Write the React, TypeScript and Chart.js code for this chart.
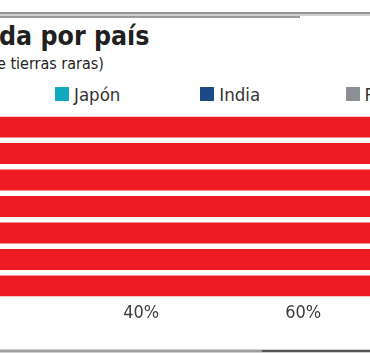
import React, { useEffect, useRef } from "react";
import { Chart, registerables } from "chart.js";

Chart.register(...registerables);

// ---- data ----
const categories = ["2006", "2007", "2008", "2009", "2010", "2011", "2012"];
const seriesNames = ["China", "Japón", "India", "Resto"];
const seriesColors = ["#ed1c24", "#12a9bf", "#1d4a86", "#8b8f94"];
const chinaValues = [95, 94, 93, 92, 91, 90, 89];
const japonValues = [2, 3, 3, 3, 4, 4, 5];
const indiaValues = [1, 1, 2, 2, 2, 2, 2];
const restoValues = [2, 2, 2, 3, 3, 4, 4];
const tickValues = [40, 60];
const titleText = "da por país";
const subtitleText = "e tierras raras)";

const seriesValues = [chinaValues, japonValues, indiaValues, restoValues];

const FONT = '"DejaVu Sans Condensed", "DejaVu Sans", sans-serif';

// baseline helper for DejaVu metrics (ascent .928, descent .236)
const topFor = (baseline: number, fs: number, lh: number) =>
  baseline - ((lh - 1.164 * fs) / 2 + 0.928 * fs);

export default function App() {
  const ref = useRef<HTMLCanvasElement | null>(null);

  useEffect(() => {
    if (!ref.current) return;
    const chart = new Chart(ref.current, {
      type: "bar",
      data: {
        labels: categories,
        datasets: seriesNames.map((name, i) => ({
          label: name,
          data: seriesValues[i],
          backgroundColor: seriesColors[i],
          borderWidth: 0,
          barPercentage: 0.79,
          categoryPercentage: 1,
        })),
      },
      options: {
        indexAxis: "y",
        responsive: false,
        animation: false,
        layout: { padding: { top: 113.85, bottom: 27.25, left: 0, right: 0 } },
        plugins: {
          legend: { display: false },
          tooltip: { enabled: false },
          title: { display: false },
        },
        scales: {
          x: {
            stacked: true,
            min: 22.56,
            max: 68.24,
            grid: { display: false, drawTicks: false },
            border: { display: false },
            afterBuildTicks: (axis: any) => {
              axis.ticks = tickValues.map((v) => ({ value: v }));
            },
            ticks: {
              padding: 3,
              autoSkip: false,
              maxRotation: 0,
              color: "#3c3c3c",
              font: { family: FONT, size: 18 },
              callback: (v: any) => `${v}%`,
            },
          },
          y: { stacked: true, display: false },
        },
      },
    });
    return () => chart.destroy();
  }, []);

  const legendStart = 55 - 145.3;
  return (
    <div
      style={{
        position: "fixed",
        left: 0,
        top: 0,
        width: 370,
        height: 354,
        overflow: "hidden",
        background: "#ffffff",
        fontFamily: FONT,
      }}
    >
      {/* top rule */}
      <div style={{ position: "absolute", left: 0, top: 12, width: 370, height: 2, background: "#939393" }} />
      <div style={{ position: "absolute", left: 0, top: 14, width: 370, height: 2, background: "#cfcfcf" }} />
      <div style={{ position: "absolute", left: 0, top: 16, width: 300, height: 1.5, background: "#9a9a9a" }} />
      {/* title */}
      <div
        style={{
          position: "absolute",
          left: -1,
          top: topFor(45, 26.5, 30),
          fontSize: 26.5,
          lineHeight: "30px",
          fontWeight: "bold",
          color: "#231f20",
          whiteSpace: "nowrap",
        }}
      >
        {titleText}
      </div>
      <div
        style={{
          position: "absolute",
          left: -3,
          top: topFor(70, 16, 20),
          fontSize: 16,
          lineHeight: "20px",
          color: "#231f20",
          whiteSpace: "nowrap",
        }}
      >
        {subtitleText}
      </div>
      {/* legend */}
      {seriesNames.map((name, i) => {
        const x = legendStart + i * 145.3;
        return (
          <React.Fragment key={name}>
            <div
              style={{
                position: "absolute",
                left: x,
                top: 87,
                width: 14,
                height: 14,
                background: seriesColors[i],
              }}
            />
            <div
              style={{
                position: "absolute",
                left: x + 19,
                top: topFor(101, 18.5, 22),
                fontSize: 18.5,
                lineHeight: "22px",
                color: "#333333",
                whiteSpace: "nowrap",
              }}
            >
              {name}
            </div>
          </React.Fragment>
        );
      })}
      <canvas ref={ref} width={370} height={354} style={{ position: "absolute", left: 0, top: 0 }} />
      {/* bottom rule */}
      <div style={{ position: "absolute", left: 0, top: 349, width: 370, height: 1, background: "#d0d0d0" }} />
      <div style={{ position: "absolute", left: 0, top: 350, width: 262, height: 2, background: "#a0a0a0" }} />
      <div style={{ position: "absolute", left: 262, top: 350, width: 108, height: 2, background: "#555555" }} />
      <div style={{ position: "absolute", left: 0, top: 352, width: 370, height: 1, background: "#d0d0d0" }} />
    </div>
  );
}
